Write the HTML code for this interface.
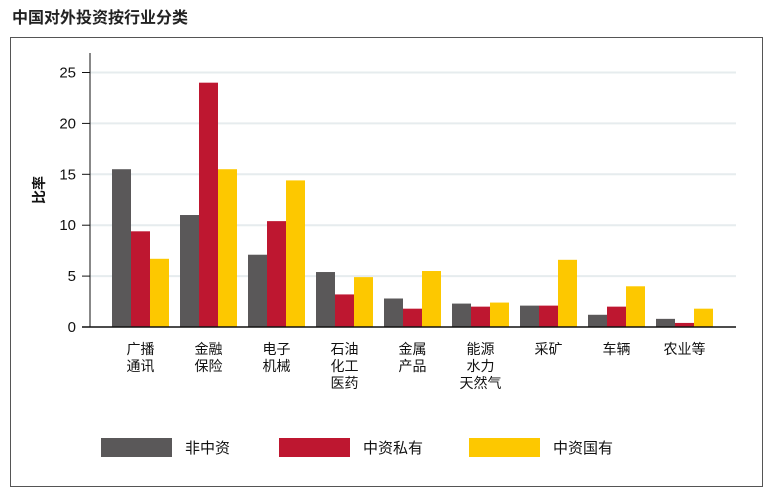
<!DOCTYPE html>
<html><head><meta charset="utf-8"><style>
body{margin:0;background:#fff;width:775px;height:493px;overflow:hidden;font-family:"Liberation Sans","Noto Sans CJK SC",sans-serif;}
svg text{font-family:"Liberation Sans","Noto Sans CJK SC",sans-serif;}
</style></head><body>
<svg id="c" width="775" height="493">
<text x="12" y="23" font-size="16" font-weight="bold" fill="#222">中国对外投资按行业分类</text>
<rect x="10.5" y="37.5" width="752" height="449" fill="none" stroke="#555"/>
<g id="grid"></g><g id="bars"></g><g id="axes"></g><g id="legend"></g>
<text transform="translate(44,190) rotate(-90)" text-anchor="middle" font-size="14" font-weight="bold" fill="#111">比率</text>
</svg>
<script>
const categories=[["广播","通讯"],["金融","保险"],["电子","机械"],["石油","化工","医药"],["金属","产品"],["能源","水力","天然气"],["采矿"],["车辆"],["农业等"]];
const seriesNames=["非中资","中资私有","中资国有"];
const nonChinese=[15.5,11,7.1,5.4,2.8,2.3,2.1,1.2,0.8];
const chinesePrivate=[9.4,24,10.4,3.2,1.8,2.0,2.1,2.0,0.4];
const chineseState=[6.7,15.5,14.4,4.9,5.5,2.4,6.6,4.0,1.8];
const yTicks=[0,5,10,15,20,25];
const colors=["#5a5859","#be1730","#fdc800"];
const NS="http://www.w3.org/2000/svg";
const X0=90,X1=736,Y0=327,PPU=10.18,GS=68,G0=112,BW=19;
const y=v=>Y0-v*PPU;
const gx=i=>G0+i*GS;
function mk(tag,attrs,parent){const e=document.createElementNS(NS,tag);for(const k in attrs)e.setAttribute(k,attrs[k]);document.getElementById(parent).appendChild(e);return e;}
yTicks.forEach(t=>{
 if(t>0){const g=mk('line',{x1:X0,x2:X1,y1:y(t),y2:y(t),stroke:'#e6ecee','stroke-width':2},'grid');
 
 }
 const tk=mk('line',{x1:82,x2:X0,y1:y(t),y2:y(t),stroke:'#111'},'axes');
 
 
 const tx=mk('text',{x:76,y:y(t)+5,'text-anchor':'end','font-size':15,fill:'#111'},'axes');
 tx.textContent=t;
 
 
});
const series=[nonChinese,chinesePrivate,chineseState];
series.forEach((s,si)=>s.forEach((v,i)=>{
 const r=mk('rect',{x:gx(i)+si*BW,y:y(v),width:BW,height:Y0-y(v),fill:colors[si]},'bars');
 
 
}));
const ax=mk('line',{x1:X0,x2:X0,y1:53,y2:Y0,stroke:'#111'},'axes');


const bx=mk('line',{x1:82,x2:X1,y1:Y0,y2:Y0,stroke:'#111','stroke-width':1.5},'axes');


categories.forEach((c,i)=>{
 const t=mk('text',{'text-anchor':'middle','font-size':14,fill:'#111'},'axes');
 
 
 c.forEach((l,j)=>{const ts=document.createElementNS(NS,'tspan');ts.setAttribute('x',gx(i)+1.5*BW);ts.setAttribute('y',354+j*17);ts.textContent=l;t.appendChild(ts);});
});
const lx=[101,279,469];
seriesNames.forEach((n,i)=>{
 const r=mk('rect',{x:lx[i],y:438,width:71,height:19,fill:colors[i]},'legend');
 
 
 const t=mk('text',{x:lx[i]+84,y:453,'font-size':15,fill:'#111'},'legend');
 t.textContent=n;
 
 
});
</script>
</body></html>
